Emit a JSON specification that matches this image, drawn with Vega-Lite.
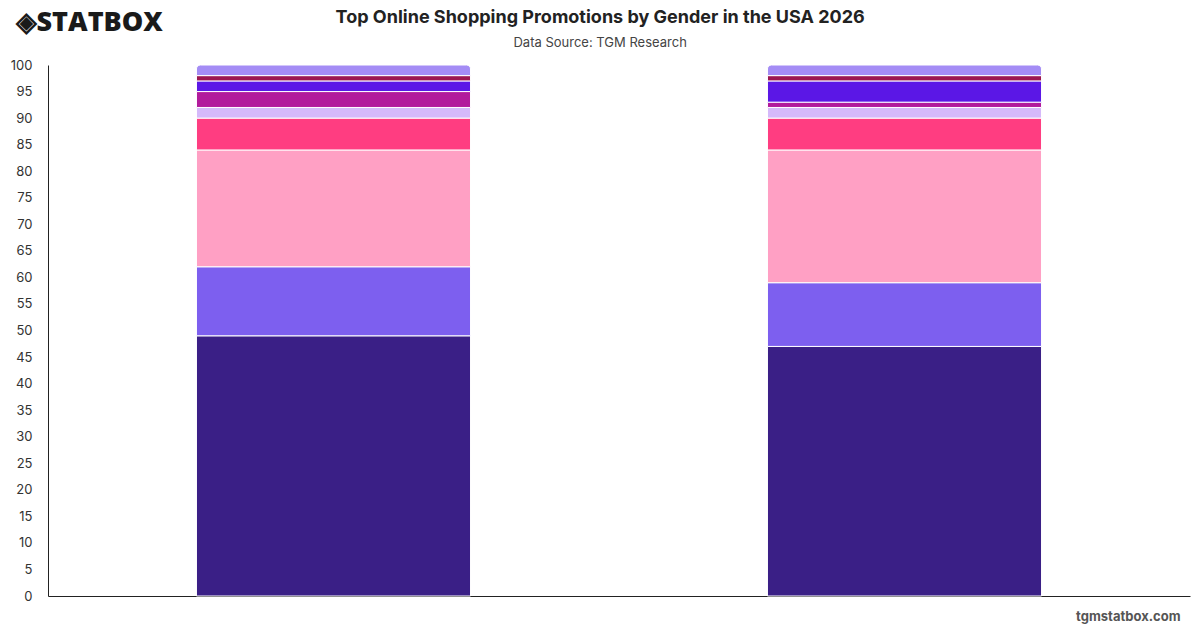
{
  "$schema": "https://vega.github.io/schema/vega-lite/v6.json",
  "width": 1142,
  "height": 531,
  "autosize": {"type": "pad"},
  "padding": {"left": 10, "top": 8, "right": 10, "bottom": 4},
  "background": "white",
  "config": {
    "font": "Inter",
    "view": {"stroke": null}
  },
  "title": {
    "text": "Top Online Shopping Promotions by Gender in the USA 2026",
    "subtitle": "Data Source: TGM Research",
    "anchor": "middle",
    "frame": "bounds",
    "font": "Inter",
    "fontSize": 18,
    "fontWeight": "bold",
    "color": "#222222",
    "subtitleFont": "Inter",
    "subtitleFontSize": 13,
    "subtitleColor": "#444444",
    "subtitlePadding": 10,
    "offset": -42
  },
  "data": {
    "values": [
      {"gender": "Male", "promotion": "Free shipping", "rank": 1, "share": 49},
      {"gender": "Male", "promotion": "Discounts", "rank": 2, "share": 13},
      {"gender": "Male", "promotion": "Coupons / promo codes", "rank": 3, "share": 22},
      {"gender": "Male", "promotion": "Cashback", "rank": 4, "share": 6},
      {"gender": "Male", "promotion": "Buy one get one", "rank": 5, "share": 2},
      {"gender": "Male", "promotion": "Loyalty points", "rank": 6, "share": 3},
      {"gender": "Male", "promotion": "Flash sales", "rank": 7, "share": 2},
      {"gender": "Male", "promotion": "Bundle deals", "rank": 8, "share": 1},
      {"gender": "Male", "promotion": "Other", "rank": 9, "share": 2},
      {"gender": "Female", "promotion": "Free shipping", "rank": 1, "share": 47},
      {"gender": "Female", "promotion": "Discounts", "rank": 2, "share": 12},
      {"gender": "Female", "promotion": "Coupons / promo codes", "rank": 3, "share": 25},
      {"gender": "Female", "promotion": "Cashback", "rank": 4, "share": 6},
      {"gender": "Female", "promotion": "Buy one get one", "rank": 5, "share": 2},
      {"gender": "Female", "promotion": "Loyalty points", "rank": 6, "share": 1},
      {"gender": "Female", "promotion": "Flash sales", "rank": 7, "share": 4},
      {"gender": "Female", "promotion": "Bundle deals", "rank": 8, "share": 1},
      {"gender": "Female", "promotion": "Other", "rank": 9, "share": 2}
    ]
  },
  "transform": [
    {
      "stack": "share",
      "groupby": ["gender"],
      "sort": [{"field": "rank", "order": "ascending"}],
      "as": ["y0", "y1"]
    }
  ],
  "encoding": {
    "x": {
      "field": "gender",
      "type": "nominal",
      "sort": ["Male", "Female"],
      "scale": {"paddingInner": 0.52, "paddingOuter": 0.26},
      "axis": {
        "labels": false,
        "ticks": false,
        "domainColor": "#222222",
        "domainWidth": 1,
        "title": "tgmstatbox.com",
        "titleFont": "Inter",
        "titleFontSize": 13,
        "titleFontWeight": "bold",
        "titleColor": "#555555",
        "titleAlign": "right",
        "titleAnchor": "end",
        "titleBaseline": "middle",
        "titleX": 1132,
        "titleY": 20
      }
    },
    "y": {
      "field": "y0",
      "type": "quantitative",
      "scale": {"domain": [0, 100], "nice": false},
      "axis": {
        "values": [0, 5, 10, 15, 20, 25, 30, 35, 40, 45, 50, 55, 60, 65, 70, 75, 80, 85, 90, 95, 100],
        "grid": false,
        "ticks": false,
        "labelPadding": 16,
        "labelFont": "Inter",
        "labelFontSize": 13,
        "labelColor": "#333333",
        "domainColor": "#222222",
        "domainWidth": 1,
        "title": "◈STATBOX",
        "titleFont": "Open Sans",
        "titleFontSize": 27,
        "titleFontWeight": 800,
        "titleColor": "#1a1a1a",
        "titleAngle": 0,
        "titleAlign": "left",
        "titleBaseline": "middle",
        "titleX": -33,
        "titleY": -43
      }
    },
    "y2": {"field": "y1"},
    "color": {
      "field": "promotion",
      "type": "nominal",
      "scale": {
        "domain": ["Free shipping", "Discounts", "Coupons / promo codes", "Cashback", "Buy one get one", "Loyalty points", "Flash sales", "Bundle deals", "Other"],
        "range": ["#3a1f86", "#7d5fef", "#ffa0c4", "#ff3d81", "#d5b9fa", "#b21b9c", "#5b17e6", "#9c1650", "#a48cf5"]
      },
      "legend": null
    }
  },
  "layer": [
    {
      "transform": [{"filter": "datum.rank < 9"}],
      "mark": {"type": "bar", "stroke": "white", "strokeWidth": 1}
    },
    {
      "transform": [{"filter": "datum.rank == 9"}],
      "mark": {"type": "bar", "stroke": "white", "strokeWidth": 1, "cornerRadiusTopLeft": 4, "cornerRadiusTopRight": 4}
    }
  ]
}
